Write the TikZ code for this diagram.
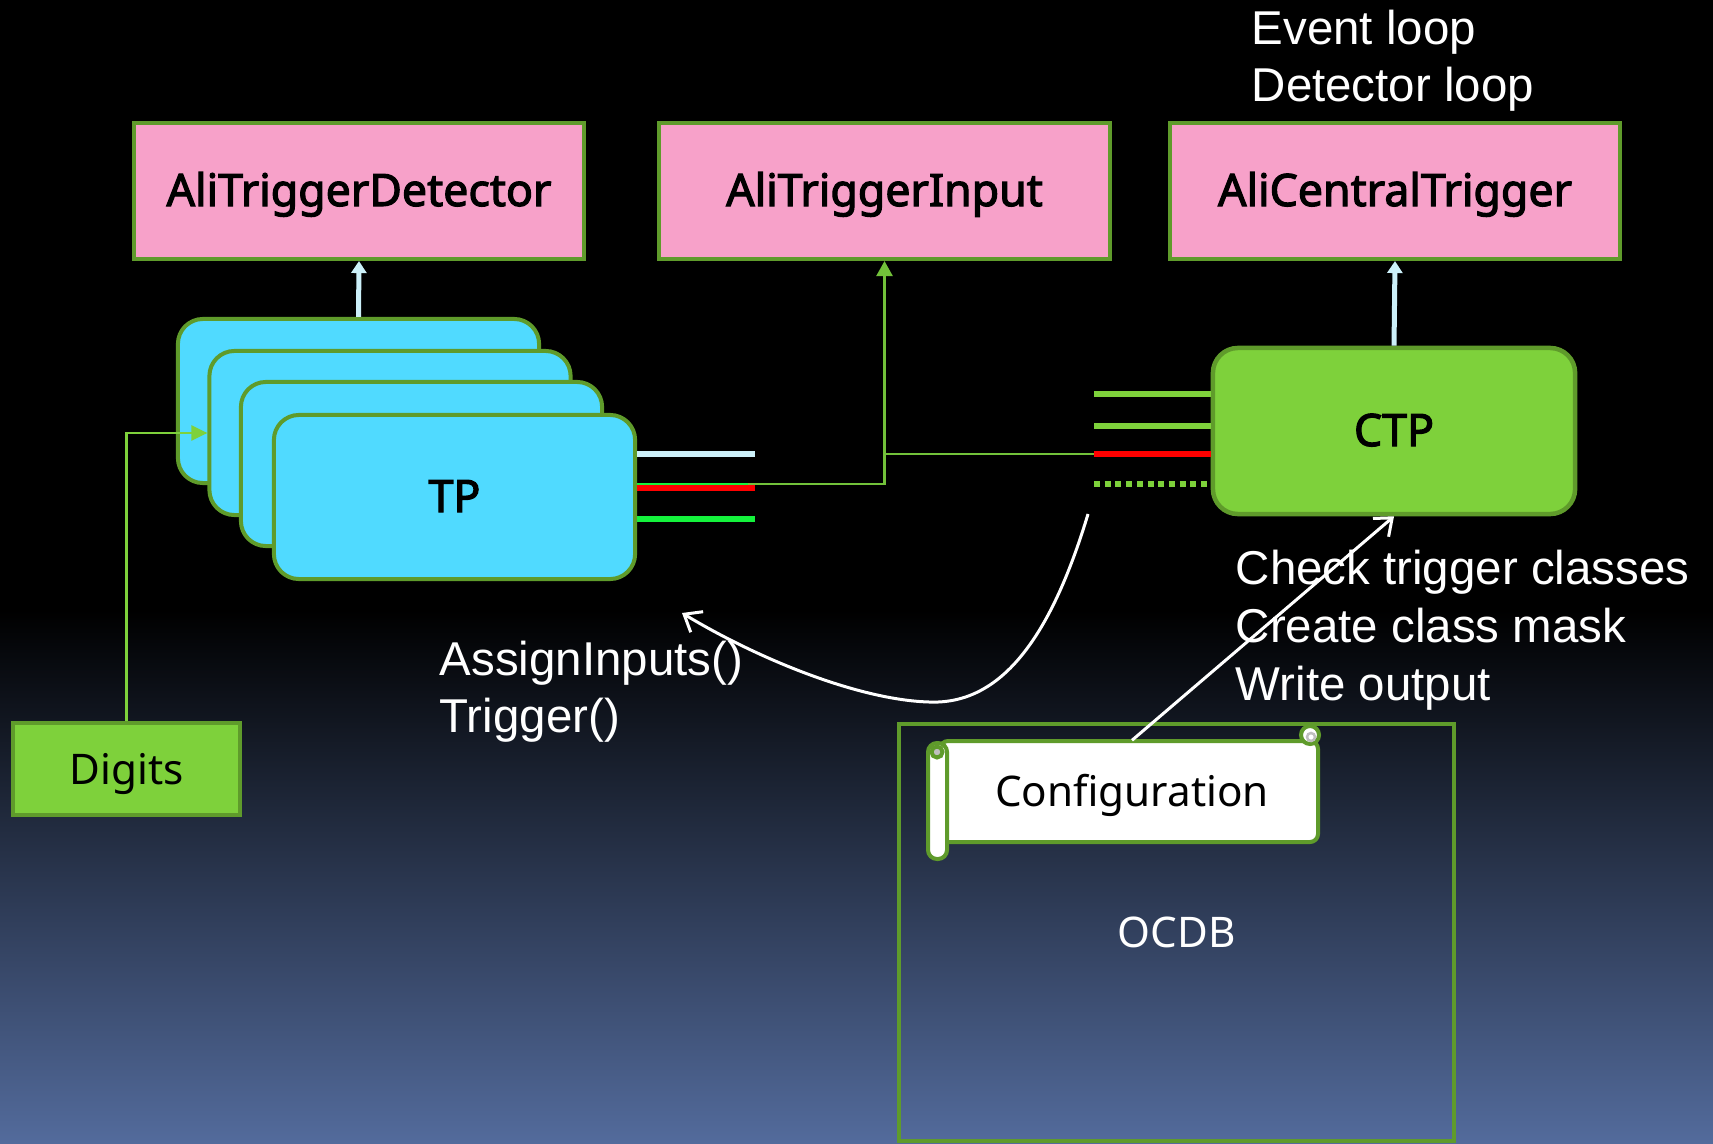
\documentclass[tikz,border=0pt]{standalone}
\usepackage{fontspec}
\setmainfont{Noto Sans}
\newfontfamily\notobold{Noto Sans}[FakeBold=2.6]
\newfontfamily\arialf{Liberation Sans}
\usetikzlibrary{arrows.meta,calc}
\definecolor{pinkf}{HTML}{F7A1C9}
\definecolor{bord}{HTML}{5F9B2B}
\definecolor{cyanf}{HTML}{50DAFF}
\definecolor{greenf}{HTML}{7ED13B}
\definecolor{lblue}{HTML}{CCF0F9}
\definecolor{bgreen}{HTML}{14F23C}
\definecolor{connc}{HTML}{72C13A}
\definecolor{bgbot}{HTML}{536B9C}
\definecolor{curlg}{HTML}{BFBFBF}
\newcommand{\boxfont}{\fontsize{12pt}{14pt}\selectfont}
\newcommand{\bboxfont}{\notobold\fontsize{12.7pt}{14pt}\selectfont}
\newcommand{\afont}{\arialf\fontsize{13.5pt}{16pt}\selectfont}
\begin{document}
\begin{tikzpicture}[x=0.01cm,y=-0.01cm,
  pinkbox/.style={draw=bord, line width=0.04cm, fill=pinkf, minimum width=4.5cm, minimum height=1.36cm, inner sep=0pt, font=\bboxfont, text height=0.3cm, text depth=0pt},
  tpcard/.style={draw=bord, line width=0.04cm, fill=cyanf, rounded corners=0.25cm, minimum width=3.61cm, minimum height=1.64cm, inner sep=0pt, font=\bboxfont, text height=0.3cm, text depth=0pt},
  ctpbox/.style={draw=bord, line width=0.045cm, fill=greenf, rounded corners=0.25cm, minimum width=3.62cm, minimum height=1.66cm, inner sep=0pt, font=\bboxfont, text height=0.3cm, text depth=0pt},
  digbox/.style={draw=bord, line width=0.04cm, fill=greenf, minimum width=2.27cm, minimum height=0.92cm, inner sep=0pt, font=\boxfont, text height=0.3cm, text depth=0pt},
  lbarrow/.style={draw=lblue, line width=0.05cm, -{Triangle[length=0.12cm,width=0.15cm]}},
  connl/.style={draw=connc, line width=0.025cm},
  stub/.style={line width=0.06cm},
  warrow/.style={draw=white, line width=0.03cm, -{Straight Barb[length=0.15cm,width=0.24cm]}},
  atext/.style={text=white, font=\afont, inner sep=0pt, anchor=base west},
  scrl/.style={draw=bord, line width=0.04cm}
]
\useasboundingbox (0,0) rectangle (1713,1143);
\fill[black] (0,0) rectangle (1713,1143);
\shade[top color=black, bottom color=bgbot] (0,610) rectangle (1713,1143);

% top boxes
\node[pinkbox] (atd) at (359,191) {AliTriggerDetector};
\node[pinkbox] (ati) at (884.5,191) {AliTriggerInput};
\node[pinkbox] (act) at (1395,191) {AliCentralTrigger};

% loop labels
\node[atext] (ev) at (1251,45) {Event loop};
\node[atext] (dl) at (1251,102) {Detector loop};

% TP stack
\node[tpcard] (tp1) at (358.5,401) {};
\node[tpcard] (tp2) at (390,433) {};
\node[tpcard] (tp3) at (421.5,464) {};
\node[tpcard] (tp4) at (454.5,497) {TP};

% CTP
\node[ctpbox] (ctp) at (1394,431) {CTP};

% Digits
\node[digbox] (dig) at (126.5,769) {Digits};

% arrows up to top boxes
\draw[lbarrow] (tp1.north) -- (atd.south);
\draw[lbarrow] (ctp.north) -- (act.south);

% Digits connector
\draw[draw=greenf, line width=0.025cm, -{Triangle[length=0.16cm,width=0.15cm]}] (dig.north) |- (tp2.west);

% connectors to AliTriggerInput
\coordinate (j1) at (748,484);
\coordinate (ta) at (755,454);
\coordinate (tb) at (755,488);
\coordinate (tc) at (755,519);
\coordinate (c1) at (1094,394);
\coordinate (c2) at (1094,426);
\coordinate (c3) at (1094,454);
\coordinate (c4) at (1094,484);
\draw[line width=0.02cm, bgreen] (j1 -| tp4.east) -- (j1);
\draw[connl, -{Triangle[length=0.15cm,width=0.16cm]}, draw=connc] (j1) -| (ati.south);
\draw[connl] (c3) -- (c3 -| ati.south);

% TP stubs
\draw[stub, lblue] (ta -| tp4.east) -- (ta);
\draw[stub, red] (tb -| tp4.east) -- (tb);
\draw[stub, bgreen] (tc -| tp4.east) -- (tc);

% CTP stubs
\draw[stub, greenf] (c1) -- (c1 -| ctp.west);
\draw[stub, greenf] (c2) -- (c2 -| ctp.west);
\draw[stub, red] (c3) -- (c3 -| ctp.west);
\draw[stub, greenf, dash pattern=on 0.06cm off 0.047cm] (c4) -- (c4 -| ctp.west);

% OCDB
\node[draw=bord, line width=0.035cm, minimum width=5.55cm, minimum height=4.17cm, text=white, font=\boxfont, inner sep=0pt] (ocdb) at (1176.5,932.5) {OCDB};

% Configuration scroll
\draw[scrl, fill=white, rounded corners=0.08cm] (940,741) -- (1318,741) -- (1318,842) -- (940,842) -- cycle;
\draw[scrl, fill=white, rounded corners=0.09cm] (928,743) rectangle (947,859);
\draw[scrl, fill=curlg] (937,752) circle (0.055cm);
\draw[scrl, fill=white] (1310,735) circle (0.09cm);
\draw[curlg, line width=0.025cm] (1311,737) circle (0.04cm);
\node[minimum width=3.74cm, minimum height=1.01cm, inner sep=0pt, font=\boxfont, text height=0.3cm, text depth=0pt] (cfg) at (1132,791.5) {Configuration};

% white arrows
\draw[warrow] (cfg.north) -- (ctp.south);
\coordinate (cs) at (1088,514);
\coordinate (ce) at (682,613);
\draw[warrow] (cs) .. controls (1050,640) and (1000,705) .. (929,702) .. controls (860,700) and (760,660) .. (ce);

% function labels
\node[atext] (ai) at (439,675) {AssignInputs()};
\node[atext] (tr) at (439,732) {Trigger()};
\node[atext] (ck) at (1235,584) {Check trigger classes};
\node[atext] (cm) at (1235,642) {Create class mask};
\node[atext] (wo) at (1235,700) {Write output};
\end{tikzpicture}
\end{document}
